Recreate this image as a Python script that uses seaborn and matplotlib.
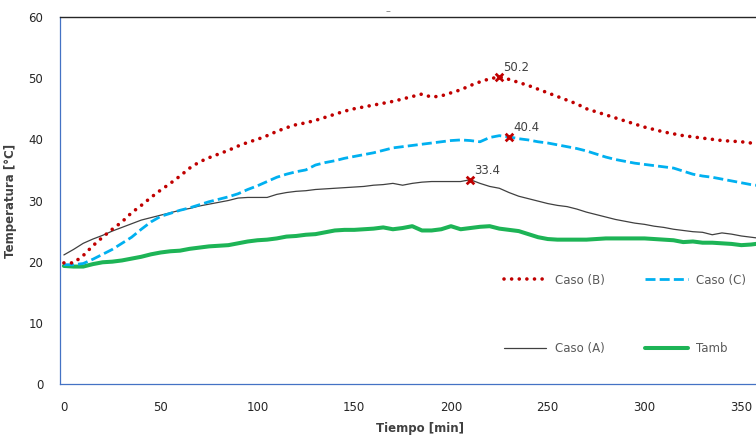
import numpy as np
import pandas as pd
import matplotlib
matplotlib.use('Agg')
import matplotlib.pyplot as plt
import seaborn as sns

sns.set_style('white')
plt.rcParams['font.family'] = ['DejaVu Sans']

# time in minutes (every 5 min)
tiempo = list(range(0, 365, 5))

caso_a = [21.1, 22.0, 23.0, 23.7, 24.3, 25.0, 25.6, 26.2, 26.8, 27.2,
          27.6, 28.0, 28.4, 28.7, 29.1, 29.4, 29.7, 30.0, 30.4, 30.5,
          30.5, 30.5, 31.0, 31.3, 31.5, 31.6, 31.8, 31.9, 32.0, 32.1,
          32.2, 32.3, 32.5, 32.6, 32.8, 32.5, 32.8, 33.0, 33.1, 33.1,
          33.1, 33.1, 33.4, 32.8, 32.3, 32.0, 31.3, 30.7, 30.3, 29.9,
          29.5, 29.2, 29.0, 28.6, 28.1, 27.7, 27.3, 26.9, 26.6, 26.3,
          26.1, 25.8, 25.6, 25.3, 25.1, 24.9, 24.8, 24.4, 24.7, 24.5,
          24.2, 24.0, 23.8]

caso_b = [19.8, 19.8, 21.0, 22.6, 24.0, 25.3, 26.5, 28.0, 29.2, 30.5,
          31.7, 32.8, 34.0, 35.3, 36.3, 37.0, 37.6, 38.2, 38.9, 39.5,
          40.0, 40.6, 41.3, 41.9, 42.4, 42.7, 43.1, 43.6, 44.1, 44.6,
          45.0, 45.3, 45.6, 45.9, 46.2, 46.6, 47.0, 47.4, 46.9, 47.1,
          47.6, 48.1, 48.8, 49.4, 49.9, 50.2, 49.8, 49.3, 48.8, 48.2,
          47.6, 47.0, 46.4, 45.8, 45.0, 44.5, 44.0, 43.5, 43.0, 42.5,
          42.0, 41.6, 41.2, 40.9, 40.6, 40.4, 40.2, 40.0, 39.8, 39.7,
          39.6, 39.4, 39.3]

caso_c = [19.5, 19.5, 19.7, 20.4, 21.2, 22.0, 23.0, 24.0, 25.3, 26.5,
          27.4, 27.9, 28.4, 28.8, 29.3, 29.8, 30.2, 30.6, 31.1, 31.8,
          32.4, 33.1, 33.8, 34.3, 34.7, 35.0, 35.8, 36.2, 36.5, 36.9,
          37.2, 37.5, 37.8, 38.2, 38.6, 38.8, 39.0, 39.2, 39.4, 39.6,
          39.8, 39.9, 39.8, 39.6, 40.3, 40.6, 40.4, 40.1, 39.9, 39.6,
          39.4, 39.1, 38.8, 38.5, 38.1, 37.6, 37.1, 36.7, 36.4, 36.1,
          35.9, 35.7, 35.5, 35.3, 34.8, 34.3, 34.0, 33.8, 33.5, 33.2,
          32.9, 32.6, 32.4]

tamb = [19.3, 19.2, 19.2, 19.6, 19.9, 20.0, 20.2, 20.5, 20.8, 21.2,
        21.5, 21.7, 21.8, 22.1, 22.3, 22.5, 22.6, 22.7, 23.0, 23.3,
        23.5, 23.6, 23.8, 24.1, 24.2, 24.4, 24.5, 24.8, 25.1, 25.2,
        25.2, 25.3, 25.4, 25.6, 25.3, 25.5, 25.8, 25.1, 25.1, 25.3,
        25.8, 25.3, 25.5, 25.7, 25.8, 25.4, 25.2, 25.0, 24.5, 24.0,
        23.7, 23.6, 23.6, 23.6, 23.6, 23.7, 23.8, 23.8, 23.8, 23.8,
        23.8, 23.7, 23.6, 23.5, 23.2, 23.3, 23.1, 23.1, 23.0, 22.9,
        22.7, 22.8, 23.0]

# peak values (time, temp)
picos_t = [225, 230, 210]
picos_v = [50.2, 40.4, 33.4]

df = pd.DataFrame({'t': tiempo, 'A': caso_a, 'B': caso_b, 'C': caso_c, 'Tamb': tamb})

fig = plt.figure(figsize=(7.56, 4.36), dpi=100)
ax = fig.add_axes([60 / 756, 52 / 436, 720 / 756, 367 / 436])

sns.lineplot(data=df, x='t', y='Tamb', ax=ax, color='#1DB456', linewidth=2.9,
             label='Tamb', zorder=2)
sns.lineplot(data=df, x='t', y='A', ax=ax, color='#404040', linewidth=0.9,
             label='Caso (A)', zorder=3)
sns.lineplot(data=df, x='t', y='C', ax=ax, color='#00B0F0', linewidth=2.0,
             label='Caso (C)', zorder=3)
ax.lines[-1].set_dashes((3.6, 1.5))
sns.lineplot(data=df, x='t', y='B', ax=ax, color='#C00000', linewidth=2.6,
             label='Caso (B)', zorder=4)
ax.lines[-1].set_dashes((0.01, 2.1))
ax.lines[-1].set_dash_capstyle('round')

ax.scatter(picos_t, picos_v, marker='x', color='#C00000', s=30, linewidths=2, zorder=5)
for tt, vv in zip(picos_t, picos_v):
    ax.annotate(f'{vv:.1f}', (tt, vv), xytext=(3, 4), textcoords='offset points',
                fontsize=8.5, color='#404040')

ax.set_xlim(-2, 370)
ax.set_ylim(0, 60)
ax.set_xticks(range(0, 400, 50))
ax.set_yticks(range(0, 70, 10))
ax.tick_params(axis='both', length=0, labelsize=8.5, labelcolor='#262626')
ax.tick_params(axis='x', pad=12)
ax.tick_params(axis='y', pad=12)

ax.set_xlabel('Tiempo [min]', fontsize=8.5, fontweight='bold', color='#404040', labelpad=6)
ax.set_ylabel('Temperatura [°C]', fontsize=8.5, fontweight='bold', color='#404040', labelpad=8)

for s in ['left', 'bottom']:
    ax.spines[s].set_color('#4472C4')
    ax.spines[s].set_linewidth(0.9)
ax.spines['top'].set_color('#262626')
ax.spines['top'].set_linewidth(1.0)
ax.spines['right'].set_visible(False)

h, l = ax.get_legend_handles_labels()
order = [l.index('Caso (B)'), l.index('Caso (A)'), l.index('Caso (C)'), l.index('Tamb')]
ax.legend([h[i] for i in order], [l[i] for i in order], ncol=2, frameon=False,
          loc='center left', bbox_to_anchor=(0.613, 0.19), fontsize=8.5,
          labelspacing=4.7, columnspacing=3.4, handlelength=3.6, handletextpad=0.75,
          labelcolor='#595959', borderpad=0.2, borderaxespad=0)

fig.text(0.513, 0.985, '–', fontsize=7, color='#7f7f7f', ha='center', va='top')

fig.savefig('out.png', dpi=100)
